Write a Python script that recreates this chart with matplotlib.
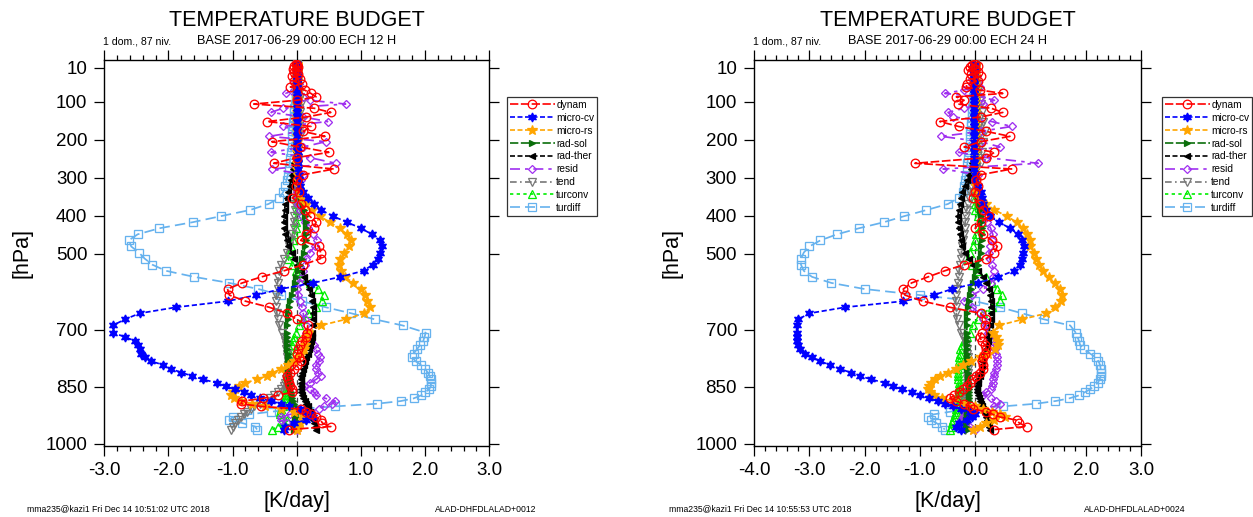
import matplotlib
matplotlib.use("Agg")
import matplotlib.pyplot as plt
from matplotlib.ticker import MultipleLocator, FixedLocator
from matplotlib.lines import Line2D

plt.rcParams['font.family'] = ['Liberation Sans', 'DejaVu Sans']

# ---------------- data ----------------
levels = [1, 3, 6, 9, 13, 17, 22, 27, 33, 39,
          46, 53, 61, 69, 78, 87, 96, 106, 117, 128,
          140, 152, 165, 178, 191, 205, 219, 233, 247, 262,
          277, 292, 305, 321, 337, 353, 369, 385, 401, 417,
          433, 449, 465, 481, 497, 513, 529, 545, 561, 577,
          593, 609, 625, 641, 657, 673, 689, 708, 719, 730,
          741, 752, 763, 773, 783, 793, 803, 813, 822, 831,
          840, 849, 857, 865, 873, 881, 888, 895, 902, 909,
          916, 923, 930, 938, 946, 955, 963]

series_names = ['dynam', 'micro-cv', 'micro-rs', 'rad-sol', 'rad-ther',
                'resid', 'tend', 'turconv', 'turdiff']

# ---- ECH 12 H ----
dynam_12 = [-0.02, 0.0, -0.05, 0.02, -0.06, 0.0, -0.05, 0.02, -0.08, 0.05,
            -0.05, 0.08, -0.1, 0.12, 0.22, 0.3, 0.0, -0.67, 0.27, 0.53,
            0.15, -0.46, 0.22, 0.1, 0.44, -0.39, 0.05, 0.5, 0.0, -0.36,
            0.58, 0.1, 0.01, -0.02, 0.04, -0.07, 0.06, 0.12, 0.2, 0.3,
            0.27, 0.15, 0.06, 0.35, 0.37, 0.37, 0.1, -0.2, -0.55, -0.85,
            -1.08, -1.05, -0.8, -0.43, -0.15, 0.0, 0.17, 0.16, 0.14, 0.08,
            0.05, 0.02, 0.01, 0.04, 0.06, 0.0, -0.05, -0.1, -0.15, -0.14,
            -0.12, -0.1, -0.08, -0.07, -0.3, -0.53, -0.85, -0.87, -0.56, 0.06,
            0.15, 0.22, 0.3, 0.37, 0.4, 0.53, -0.12]
microcv_12 = [0.0, 0.01, 0.0, 0.01, 0.0, 0.01, 0.01, 0.0, 0.01, 0.01,
              0.01, 0.0, 0.01, 0.01, 0.01, 0.01, 0.01, 0.01, 0.01, 0.01,
              0.01, 0.01, 0.01, 0.01, 0.01, 0.01, 0.01, 0.02, 0.02, 0.02,
              0.02, 0.03, 0.03, 0.05, 0.1, 0.18, 0.27, 0.38, 0.56, 0.78,
              1.0, 1.17, 1.29, 1.32, 1.30, 1.26, 1.18, 1.04, 0.68, 0.25,
              -0.25, -0.63, -1.08, -1.88, -2.45, -2.68, -2.87, -2.87, -2.68, -2.52,
              -2.48, -2.45, -2.43, -2.37, -2.27, -2.08, -1.96, -1.8, -1.63, -1.46,
              -1.25, -1.11, -0.97, -0.83, -0.72, -0.58, -0.4, -0.25, -0.12, 0.05,
              0.15, 0.2, 0.25, 0.15, -0.05, -0.18, -0.2]
micrors_12 = [0.0, 0.0, 0.0, 0.0, 0.0, 0.0, 0.0, 0.0, 0.0, 0.0,
              0.0, 0.0, 0.0, 0.0, 0.0, 0.0, 0.0, 0.0, 0.0, 0.0,
              0.0, 0.0, 0.0, 0.0, 0.0, 0.0, 0.01, 0.01, 0.01, 0.01,
              0.01, 0.02, 0.02, 0.03, 0.05, 0.08, 0.15, 0.24, 0.36, 0.51,
              0.67, 0.78, 0.84, 0.82, 0.73, 0.68, 0.66, 0.69, 0.75, 0.88,
              1.0, 1.07, 1.1, 1.14, 1.05, 0.76, 0.37, 0.18, 0.14, 0.13,
              0.12, 0.11, 0.07, 0.02, -0.05, -0.14, -0.24, -0.38, -0.47, -0.62,
              -0.8, -0.9, -0.97, -1.0, -1.02, -0.98, -0.87, -0.7, -0.5, -0.25,
              -0.04, 0.08, 0.12, 0.1, 0.05, 0.02, 0.0]
radsol_12 = [0.0, 0.0, 0.01, 0.01, 0.01, 0.01, 0.01, 0.01, 0.01, 0.01,
             0.01, 0.01, 0.01, 0.01, 0.01, 0.01, 0.01, 0.01, 0.01, 0.01,
             0.01, 0.01, 0.01, 0.01, 0.01, 0.01, 0.01, 0.02, 0.02, 0.02,
             0.02, 0.02, 0.03, 0.04, 0.05, 0.07, 0.09, 0.11, 0.13, 0.14,
             0.15, 0.15, 0.14, 0.13, 0.11, 0.08, 0.05, 0.02, -0.01, -0.03,
             -0.05, -0.07, -0.1, -0.12, -0.13, -0.14, -0.15, -0.15, -0.15, -0.15,
             -0.15, -0.15, -0.14, -0.14, -0.14, -0.13, -0.13, -0.12, -0.12, -0.11,
             -0.1, -0.1, -0.1, -0.09, -0.08, -0.07, -0.06, -0.05, -0.04, -0.03,
             -0.02, -0.02, -0.02, -0.03, -0.03, -0.03, -0.04]
radther_12 = [0.0, 0.0, 0.0, 0.0, 0.0, 0.0, 0.0, 0.0, 0.0, 0.0,
              0.0, 0.0, 0.0, 0.0, 0.0, 0.0, 0.0, 0.0, 0.0, 0.0,
              0.0, 0.0, 0.0, 0.0, 0.0, -0.01, -0.02, -0.02, -0.03, -0.04,
              -0.06, -0.08, -0.09, -0.11, -0.13, -0.16, -0.18, -0.19, -0.2, -0.2,
              -0.2, -0.18, -0.16, -0.13, -0.08, -0.04, 0.01, 0.06, 0.11, 0.15,
              0.19, 0.22, 0.24, 0.25, 0.25, 0.25, 0.25, 0.24, 0.23, 0.22,
              0.21, 0.19, 0.17, 0.15, 0.13, 0.11, 0.09, 0.08, 0.07, 0.06,
              0.06, 0.06, 0.06, 0.07, 0.08, 0.1, 0.12, 0.15, 0.17, 0.18,
              0.2, 0.22, 0.24, 0.26, 0.27, 0.28, 0.3]
resid_12 = [0.0, 0.0, 0.0, 0.01, 0.0, -0.01, 0.01, 0.0, -0.02, 0.02,
            -0.03, 0.04, 0.02, -0.05, -0.17, 0.1, 0.2, 0.76, -0.22, -0.4,
            0.1, 0.48, -0.21, 0.05, -0.43, 0.45, 0.1, -0.4, 0.2, 0.61,
            -0.38, 0.1, 0.06, 0.02, 0.0, 0.0, 0.02, 0.05, 0.08, 0.12,
            0.18, 0.25, 0.32, 0.28, 0.2, 0.15, 0.12, 0.1, 0.08, 0.03,
            0.01, 0.02, 0.05, 0.08, 0.1, 0.12, 0.14, 0.15, 0.18, 0.22,
            0.27, 0.3, 0.33, 0.36, 0.35, 0.3, 0.3, 0.33, 0.37, 0.3,
            0.2, 0.11, 0.2, 0.27, 0.3, 0.45, 0.6, 0.55, 0.42, 0.35,
            0.15, -0.1, -0.25, -0.25, -0.15, -0.05, 0.0]
tend_12 = [0.0, 0.0, 0.0, 0.0, 0.0, 0.0, 0.0, 0.0, 0.0, 0.0,
           0.0, 0.01, 0.02, 0.02, 0.03, 0.05, 0.04, 0.06, 0.03, 0.05,
           0.04, 0.06, 0.02, 0.03, 0.05, 0.02, 0.03, 0.01, 0.02, 0.0,
           -0.01, -0.02, -0.02, -0.02, -0.02, -0.02, -0.03, -0.03, -0.04, -0.05,
           -0.05, -0.07, -0.09, -0.12, -0.16, -0.2, -0.24, -0.27, -0.29, -0.3,
           -0.3, -0.32, -0.33, -0.32, -0.31, -0.3, -0.27, -0.23, -0.2, -0.18,
           -0.17, -0.17, -0.16, -0.15, -0.14, -0.14, -0.14, -0.15, -0.16, -0.17,
           -0.18, -0.2, -0.25, -0.3, -0.35, -0.42, -0.5, -0.58, -0.66, -0.72,
           -0.78, -0.83, -0.87, -0.92, -0.96, -0.99, -1.03]
turconv_12 = [0.0, 0.0, 0.0, 0.0, 0.0, 0.0, 0.0, 0.0, 0.0, 0.0,
              0.0, 0.0, 0.0, 0.0, 0.0, 0.0, 0.0, 0.0, 0.0, 0.0,
              0.0, 0.0, 0.0, 0.0, 0.0, 0.0, 0.0, 0.0, 0.0, 0.0,
              0.0, 0.0, 0.0, 0.0, 0.0, 0.0, 0.0, 0.0, 0.0, -0.01,
              -0.02, -0.04, -0.06, -0.09, -0.12, -0.14, -0.08, -0.02, 0.08, 0.2,
              0.33, 0.42, 0.4, 0.3, 0.18, 0.1, 0.04, -0.02, -0.04, -0.06,
              -0.08, -0.1, -0.11, -0.12, -0.13, -0.14, -0.15, -0.15, -0.16, -0.16,
              -0.16, -0.16, -0.17, -0.17, -0.18, -0.18, -0.19, -0.2, -0.22, -0.24,
              -0.26, -0.26, -0.22, -0.15, -0.2, -0.3, -0.38]
turdiff_12 = [0.0, 0.0, 0.0, 0.0, 0.0, 0.0, 0.0, 0.0, 0.0, 0.0,
              0.0, 0.0, -0.01, -0.01, -0.01, -0.02, -0.02, -0.03, -0.04, -0.05,
              -0.05, -0.06, -0.06, -0.07, -0.07, -0.07, -0.08, -0.09, -0.1, -0.11,
              -0.12, -0.14, -0.16, -0.18, -0.21, -0.27, -0.44, -0.73, -1.18, -1.62,
              -2.14, -2.48, -2.62, -2.58, -2.46, -2.37, -2.25, -2.04, -1.6, -1.05,
              -0.6, -0.25, 0.08, 0.45, 0.85, 1.22, 1.65, 2.01, 1.99, 1.97,
              1.92, 1.87, 1.82, 1.80, 1.85, 1.94, 2.0, 2.04, 2.07, 2.09,
              2.09, 2.09, 2.06, 2.0, 1.94, 1.82, 1.62, 1.25, 0.6, 0.0,
              -0.4, -0.74, -1.0, -1.05, -0.85, -0.65, -0.62]

# ---- ECH 24 H ----
dynam_24 = [0.0, -0.05, 0.05, -0.1, 0.0, -0.13, 0.05, -0.08, 0.1, -0.1,
            0.05, -0.15, -0.16, 0.08, 0.5, -0.34, -0.2, -0.31, 0.29, 0.5,
            0.1, -0.64, -0.3, 0.2, 0.63, 0.1, -0.2, 0.35, 0.2, -1.09,
            0.66, 0.1, 0.02, 0.05, 0.0, -0.04, 0.08, 0.15, 0.25, 0.1,
            0.0, 0.15, 0.3, 0.4, 0.35, 0.2, -0.2, -0.55, -0.85, -1.15,
            -1.3, -1.27, -0.95, -0.46, 0.1, 0.2, 0.18, 0.12, 0.08, 0.12,
            0.18, 0.2, 0.17, 0.15, 0.12, 0.14, 0.14, 0.08, 0.02, -0.05,
            -0.1, -0.15, -0.22, -0.3, -0.38, -0.46, -0.35, -0.2, -0.1, -0.04,
            0.2, 0.32, 0.45, 0.75, 0.8, 0.93, 0.35]
microcv_24 = [-0.02, -0.02, -0.02, -0.02, -0.02, -0.02, -0.02, -0.02, -0.02, -0.02,
              -0.02, -0.02, -0.02, -0.02, -0.02, -0.02, -0.02, -0.02, -0.02, -0.02,
              -0.02, -0.02, -0.02, -0.02, -0.02, -0.02, -0.02, -0.02, -0.02, -0.02,
              -0.02, -0.01, 0.0, 0.05, 0.1, 0.12, 0.15, 0.2, 0.26, 0.43,
              0.63, 0.78, 0.85, 0.88, 0.87, 0.85, 0.81, 0.7, 0.42, 0.05,
              -0.42, -0.75, -1.3, -2.35, -3.0, -3.2, -3.23, -3.23, -3.23, -3.23,
              -3.21, -3.17, -3.08, -2.95, -2.8, -2.63, -2.45, -2.25, -2.08, -1.88,
              -1.63, -1.48, -1.33, -1.15, -1.0, -0.83, -0.68, -0.55, -0.4, -0.25,
              -0.1, 0.0, -0.05, -0.15, -0.3, -0.35, -0.25]
micrors_24 = [0.0, 0.0, 0.0, 0.0, 0.0, 0.0, 0.0, 0.0, 0.0, 0.0,
              0.0, 0.0, 0.0, 0.0, 0.0, 0.0, 0.0, 0.0, 0.0, 0.0,
              0.0, 0.0, 0.0, 0.0, 0.0, 0.0, 0.0, 0.0, 0.0, 0.0,
              0.0, 0.01, 0.01, 0.02, 0.03, 0.08, 0.2, 0.35, 0.57, 0.75,
              0.87, 0.93, 0.99, 1.0, 1.06, 1.1, 1.15, 1.22, 1.33, 1.45,
              1.53, 1.58, 1.56, 1.45, 1.28, 0.85, 0.43, 0.32, 0.38, 0.41,
              0.41, 0.36, 0.24, 0.08, -0.08, -0.22, -0.35, -0.5, -0.63, -0.73,
              -0.8, -0.83, -0.85, -0.82, -0.75, -0.6, -0.4, -0.2, 0.0, 0.14,
              0.3, 0.45, 0.54, 0.35, 0.2, 0.08, -0.04]
radsol_24 = [0.0, 0.0, 0.01, 0.01, 0.01, 0.01, 0.01, 0.01, 0.01, 0.01,
             0.01, 0.01, 0.01, 0.01, 0.01, 0.01, 0.01, 0.01, 0.01, 0.01,
             0.01, 0.01, 0.01, 0.01, 0.01, 0.01, 0.01, 0.01, 0.01, 0.01,
             0.01, 0.01, 0.02, 0.03, 0.04, 0.05, 0.07, 0.09, 0.1, 0.11,
             0.12, 0.12, 0.12, 0.11, 0.1, 0.08, 0.05, 0.02, -0.01, -0.04,
             -0.07, -0.09, -0.11, -0.13, -0.14, -0.15, -0.15, -0.15, -0.15, -0.15,
             -0.15, -0.15, -0.15, -0.15, -0.14, -0.14, -0.14, -0.13, -0.13, -0.13,
             -0.12, -0.12, -0.12, -0.12, -0.12, -0.12, -0.12, -0.13, -0.13, -0.14,
             -0.14, -0.15, -0.15, -0.16, -0.16, -0.16, -0.15]
radther_24 = [0.0, 0.0, 0.0, 0.0, 0.0, 0.0, 0.0, 0.0, 0.0, 0.0,
              0.0, 0.0, 0.0, 0.0, 0.0, 0.0, 0.0, 0.0, 0.0, 0.0,
              0.0, 0.0, 0.0, 0.0, 0.0, 0.0, -0.01, -0.02, -0.03, -0.05,
              -0.08, -0.11, -0.14, -0.19, -0.23, -0.26, -0.28, -0.3, -0.31, -0.31,
              -0.3, -0.28, -0.26, -0.23, -0.18, -0.12, -0.03, 0.06, 0.15, 0.2,
              0.25, 0.27, 0.28, 0.29, 0.29, 0.28, 0.27, 0.25, 0.24, 0.23,
              0.21, 0.19, 0.17, 0.15, 0.13, 0.12, 0.1, 0.09, 0.08, 0.06,
              0.05, 0.04, 0.03, 0.04, 0.05, 0.07, 0.09, 0.11, 0.13, 0.15,
              0.17, 0.18, 0.2, 0.21, 0.23, 0.25, 0.27]
resid_24 = [0.0, 0.0, 0.01, 0.0, -0.02, 0.02, 0.0, -0.03, 0.03, -0.05,
            0.05, -0.05, 0.08, -0.2, -0.55, 0.1, 0.35, 0.15, -0.2, -0.49,
            -0.4, 0.3, 0.66, 0.1, -0.61, 0.1, 0.45, -0.3, 0.2, 1.14,
            -0.58, 0.05, 0.0, 0.02, 0.05, 0.08, 0.1, 0.15, 0.2, 0.22,
            0.28, 0.32, 0.3, 0.27, 0.25, 0.26, 0.3, 0.35, 0.33, 0.29,
            0.15, -0.05, -0.2, -0.05, 0.08, 0.15, 0.2, 0.23, 0.25, 0.3,
            0.33, 0.36, 0.38, 0.4, 0.4, 0.39, 0.37, 0.35, 0.34, 0.33,
            0.32, 0.3, 0.28, 0.2, 0.15, 0.28, 0.38, 0.45, 0.35, 0.15,
            0.0, -0.15, -0.22, -0.25, -0.2, -0.1, 0.0]
tend_24 = [0.0, 0.0, 0.0, 0.0, 0.0, 0.0, 0.0, 0.0, 0.0, 0.0,
           0.0, 0.02, 0.03, 0.05, 0.04, 0.06, 0.08, 0.1, 0.05, 0.12,
           0.08, 0.15, 0.1, 0.18, 0.1, 0.14, 0.08, 0.12, 0.05, 0.1,
           0.0, -0.03, -0.05, -0.07, -0.09, -0.11, -0.13, -0.15, -0.17, -0.18,
           -0.19, -0.21, -0.22, -0.23, -0.25, -0.26, -0.27, -0.29, -0.3, -0.31,
           -0.33, -0.34, -0.35, -0.35, -0.34, -0.33, -0.3, -0.25, -0.22, -0.19,
           -0.16, -0.15, -0.14, -0.13, -0.13, -0.13, -0.13, -0.13, -0.14, -0.14,
           -0.15, -0.15, -0.16, -0.16, -0.17, -0.17, -0.18, -0.18, -0.19, -0.19,
           -0.2, -0.2, -0.2, -0.2, -0.2, -0.19, -0.18]
turconv_24 = [0.0, 0.0, 0.0, 0.0, 0.0, 0.0, 0.0, 0.0, 0.0, 0.0,
              0.0, 0.0, 0.0, 0.0, 0.0, 0.0, 0.0, 0.0, 0.0, 0.0,
              0.0, 0.0, 0.0, 0.0, 0.0, 0.0, 0.0, 0.0, 0.0, 0.0,
              0.0, 0.0, 0.0, 0.0, 0.0, 0.0, 0.0, 0.0, 0.05, 0.12,
              0.08, 0.02, 0.0, -0.03, -0.1, -0.13, -0.05, 0.05, 0.2, 0.3,
              0.4, 0.48, 0.45, 0.3, 0.15, 0.05, -0.04, -0.1, -0.15, -0.2,
              -0.24, -0.27, -0.28, -0.29, -0.3, -0.3, -0.31, -0.31, -0.31, -0.31,
              -0.3, -0.3, -0.3, -0.3, -0.3, -0.3, -0.31, -0.32, -0.33, -0.34,
              -0.35, -0.36, -0.38, -0.4, -0.42, -0.44, -0.46]
turdiff_24 = [0.0, 0.0, 0.0, 0.0, 0.0, 0.0, 0.0, 0.0, 0.0, 0.0,
              0.0, -0.01, -0.01, -0.02, -0.02, -0.03, -0.03, -0.04, -0.05, -0.05,
              -0.06, -0.07, -0.08, -0.09, -0.09, -0.1, -0.11, -0.12, -0.13, -0.14,
              -0.15, -0.17, -0.19, -0.2, -0.22, -0.3, -0.49, -0.88, -1.28, -1.65,
              -2.1, -2.5, -2.8, -3.0, -3.1, -3.15, -3.15, -3.1, -2.95, -2.6,
              -2.0, -1.0, 0.0, 0.45, 0.85, 1.25, 1.72, 1.82, 1.85, 1.88,
              1.9, 1.97, 2.08, 2.18, 2.23, 2.26, 2.27, 2.27, 2.27, 2.25,
              2.22, 2.15, 2.08, 1.98, 1.88, 1.7, 1.45, 1.1, 0.5, -0.15,
              -0.45, -0.75, -0.85, -0.8, -0.7, -0.6, -0.55]

panel_12 = [dynam_12, microcv_12, micrors_12, radsol_12, radther_12,
            resid_12, tend_12, turconv_12, turdiff_12]
panel_24 = [dynam_24, microcv_24, micrors_24, radsol_24, radther_24,
            resid_24, tend_24, turconv_24, turdiff_24]

ytick_vals = [10, 100, 200, 300, 400, 500, 700, 850, 1000]
subtitles = ['BASE 2017-06-29 00:00 ECH 12 H', 'BASE 2017-06-29 00:00 ECH 24 H']
footers_left = ['mma235@kazi1 Fri Dec 14 10:51:02 UTC 2018',
                'mma235@kazi1 Fri Dec 14 10:55:53 UTC 2018']
footers_right = ['ALAD-DHFDLALAD+0012', 'ALAD-DHFDLALAD+0024']
xlims = [(-3.0, 3.0), (-4.0, 3.0)]

# ---------------- styles ----------------
styles = [
    dict(color='#ff0000', ls=(0, (5, 1.5)), marker='o', mfc='none', ms=6.2),
    dict(color='#0000ff', ls=(0, (3, 1.5)), marker=(6, 1, 0), mfc='#0000ff', ms=6.5),
    dict(color='#ffa500', ls=(0, (3, 1.5)), marker='*', mfc='#ffa500', ms=7.0),
    dict(color='#0a6e0a', ls=(0, (5, 1.5)), marker='>', mfc='#0a6e0a', ms=5.0),
    dict(color='#000000', ls=(0, (3, 1.5)), marker='<', mfc='#000000', ms=5.0),
    dict(color='#a030f0', ls=(0, (6, 3, 2, 3)), marker='D', mfc='none', ms=4.4),
    dict(color='#777777', ls=(0, (4, 2, 1, 2)), marker='v', mfc='none', ms=5.2),
    dict(color='#00ee00', ls=(0, (2, 2)), marker='^', mfc='none', ms=5.2),
    dict(color='#66b2ee', ls=(0, (6, 3)), marker='s', mfc='none', ms=5.4),
]

W, H = 1253, 517
fig = plt.figure(figsize=(W / 100, H / 100), dpi=100)


def fx(px):
    return px / W


def fy(py):
    return 1 - py / H


axes_px = [(104.3, 489.3), (754.0, 1141.0)]
legend_px = [(506.5, 97.0), (1161.5, 97.0)]
top_px, bot_px = 60.0, 445.5

for k, panel in enumerate([panel_12, panel_24]):
    x0, x1 = axes_px[k]
    ax = fig.add_axes([fx(x0), fy(bot_px), fx(x1 - x0), (bot_px - top_px) / H])
    ax.axvline(0, color='#444444', ls=(0, (4, 3)), lw=0.9, zorder=1)
    handles = []
    for i in range(len(series_names) - 1, -1, -1):
        st = styles[i]
        ax.plot(panel[i], levels, color=st['color'], ls=st['ls'], lw=1.25,
                marker=st['marker'], ms=st['ms'], mfc=st['mfc'], mec=st['color'],
                mew=0.95, zorder=2 + (len(series_names) - i))
    for i, name in enumerate(series_names):
        st = styles[i]
        handles.append(Line2D([], [], color=st['color'], ls=st['ls'], lw=1.2,
                              marker=st['marker'], ms=st['ms'], mfc=st['mfc'],
                              mec=st['color'], mew=0.9))
    ax.set_xlim(*xlims[k])
    ax.set_ylim(1005, -10)
    ax.xaxis.set_major_locator(MultipleLocator(1.0))
    ax.xaxis.set_minor_locator(MultipleLocator(0.2))
    ax.yaxis.set_major_locator(FixedLocator(ytick_vals))
    ax.set_yticklabels([str(v) for v in ytick_vals])
    ticks = ax.get_xticks()
    ax.set_xticks(ticks)
    ax.set_xticklabels(['%.1f' % t for t in ticks])
    ax.set_xlim(*xlims[k])
    ax.tick_params(which='both', direction='out', top=True, right=True,
                   labeltop=False, labelright=False, width=0.9, labelsize=13.5,
                   colors='black')
    ax.tick_params(which='major', length=7.2, pad=5)
    ax.tick_params(which='minor', length=3.6)
    for sp in ax.spines.values():
        sp.set_linewidth(1.0)
    ax.set_xlabel('[K/day]', fontsize=15.5, labelpad=8)
    ax.set_ylabel('[hPa]', fontsize=15.5, labelpad=9)

    cx = (x0 + x1) / 2
    fig.text(fx(cx), fy(21), 'TEMPERATURE BUDGET', ha='center', va='center',
             fontsize=15.5)
    fig.text(fx(cx), fy(41.5), subtitles[k], ha='center', va='center', fontsize=9.2)
    fig.text(fx(x0 - 1), fy(41.5), '1 dom., 87 niv.', ha='left', va='center',
             fontsize=7.6)
    fig.text(fx(x0 - 77 if k == 0 else x0 - 85), fy(509), footers_left[k],
             ha='left', va='center', fontsize=6.2)
    fig.text(fx(536 if k == 0 else 1186), fy(509), footers_right[k],
             ha='right', va='center', fontsize=6.2)

    lx, ly = legend_px[k]
    leg = ax.legend(handles, series_names, loc='upper left',
                    bbox_to_anchor=(fx(lx), fy(ly)), bbox_transform=fig.transFigure,
                    fontsize=7.3, handlelength=4.5, handletextpad=0.1,
                    labelspacing=0.28, borderpad=0.3, borderaxespad=0,
                    frameon=True, fancybox=False, edgecolor='black',
                    numpoints=1)
    leg.get_frame().set_linewidth(0.9)

fig.savefig('out.png', dpi=100)
